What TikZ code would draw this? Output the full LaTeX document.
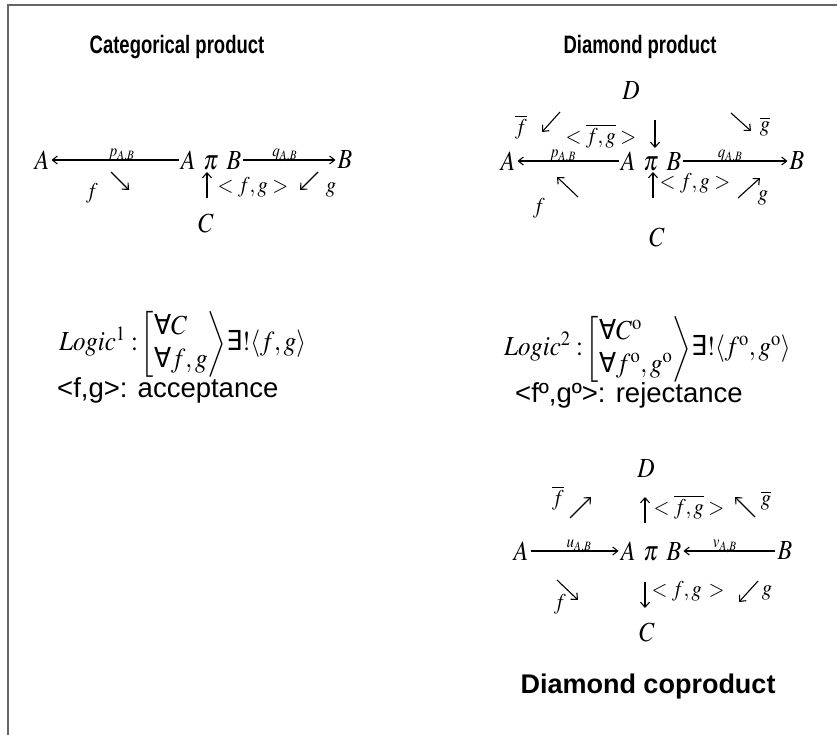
\documentclass[tikz,border=0pt]{standalone}
\usepackage{amsmath}
\usepackage{mathptmx}
\usepackage[no-math]{fontspec}
\setmainfont{Liberation Sans}
\newfontfamily\dvsans{DejaVu Sans}
\newcommand{\myall}{\text{\dvsans ∀}}
\newcommand{\myex}{\text{\dvsans ∃}}
\usetikzlibrary{arrows.meta}
\tikzset{
  ttl/.style={font=\fontsize{21}{25}\selectfont\bfseries, inner sep=0pt, xscale=0.88, yscale=1.2},
  ttlb/.style={font=\fontsize{27}{32}\selectfont\bfseries, inner sep=0pt},
  mm/.style={font=\fontsize{24}{28}\selectfont, inner sep=1pt, yscale=1.15},
  lg/.style={font=\fontsize{25}{30}\selectfont, inner sep=1pt, yscale=1.1, anchor=west},
  ml/.style={font=\fontsize{20.5}{24}\selectfont, inner sep=1pt, yscale=1.1},
  sb/.style={font=\fontsize{15}{18}\selectfont, inner sep=0pt, yscale=1.15},
  txt/.style={font=\fontsize{27.5}{32}\selectfont, inner sep=0pt, anchor=west},
  arr/.style={-{Straight Barb[length=5pt,width=9pt]}, line width=1.1pt},
  harr/.style={-{Straight Barb[length=5pt,width=8pt]}, line width=1.1pt, shorten <=1pt, shorten >=1pt},
}
\begin{document}
\begin{tikzpicture}[x=1pt,y=-1pt]
\useasboundingbox (0,0) rectangle (837,735);
\draw[black!60, line width=1.3pt] (8,735) -- (8,5) -- (837,5);

% ---------- Categorical product ----------
\node[ttl] (t1) at (177,47) {Categorical product};
\node[mm] (cA) at (42,160) {$A$};
\node[mm] (cP) at (211,160) {$A\;\,\pi\;\,B$};
\node[mm] (cB) at (345,160) {$B$};
\draw[harr] (cP) -- node[sb, above=-2pt, pos=0.45] {$p_{A,B}$} (cA);
\draw[harr] (cP) -- node[sb, above=-2pt, pos=0.45] {$q_{A,B}$} (cB);
\node[ml] (cf) at (92,193) {$f$};
\coordinate (c1s) at (111,172); \coordinate (c1e) at (129,190);
\draw[arr] (c1s) -- (c1e);
\coordinate (c2s) at (207,198); \coordinate (c2e) at (207,172);
\draw[arr] (c2s) -- (c2e);
\node[ml] (cfg) at (253,187) {$<f,\boldsymbol{g}>$};
\coordinate (c3s) at (318,172); \coordinate (c3e) at (300,190);
\draw[arr] (c3s) -- (c3e);
\node[ml] (cg) at (331,190) {$g$};
\node[mm] (cC) at (206,223) {$C$};

% Logic 1
\node[lg] (l1) at (58,344) {$\mathit{Logic}^{1}:\!\left[\begin{array}{@{}l@{}}\myall C\\ \myall f,g\end{array}\right\rangle\!\myex!\langle f,g\rangle$};
\node[txt] (acc) at (57,390) {<f,g>: acceptance};

% ---------- Diamond product ----------
\node[ttl] (t2) at (640,47) {Diamond product};
\node[mm] (dD) at (631,91) {$D$};
\node[ml] (dfb) at (521,127) {$\overline{f}$};
\coordinate (d1s) at (560,112); \coordinate (d1e) at (542,132);
\draw[arr] (d1s) -- (d1e);
\node[ml] (dfg) at (601,136) {$<\overline{f,g}>$};
\coordinate (d2s) at (655,120); \coordinate (d2e) at (655,148);
\draw[arr] (d2s) -- (d2e);
\coordinate (d3s) at (731,113); \coordinate (d3e) at (751,131);
\draw[arr] (d3s) -- (d3e);
\node[ml] (dgb) at (765,127) {$\overline{g}$};
\node[mm] (dA) at (508,161) {$A$};
\node[mm] (dP) at (651,161) {$A\;\,\pi\;\,B$};
\node[mm] (dB) at (797,161) {$B$};
\draw[harr] (dP) -- node[sb, above=-2pt, pos=0.55] {$p_{A,B}$} (dA);
\draw[harr] (dP) -- node[sb, above=-2pt, pos=0.45] {$q_{A,B}$} (dB);
\node[ml] (df) at (539,208) {$f$};
\coordinate (d4s) at (578,197); \coordinate (d4e) at (557,177);
\draw[arr] (d4s) -- (d4e);
\coordinate (d5s) at (653,198); \coordinate (d5e) at (653,172);
\draw[arr] (d5s) -- (d5e);
\node[ml] (dfg2) at (695,183) {$<f,g>$};
\coordinate (d6s) at (738,198); \coordinate (d6e) at (760,178);
\draw[arr] (d6s) -- (d6e);
\node[ml] (dg) at (763,198) {$g$};
\node[mm] (dC) at (657,237) {$C$};

% Logic 2
\node[lg] (l2) at (503,349) {$\mathit{Logic}^{2}:\!\left[\begin{array}{@{}l@{}}\myall C^{\mathrm{o}}\\ \myall f^{\mathrm{o}},g^{\mathrm{o}}\end{array}\right\rangle\!\myex!\langle f^{\mathrm{o}},g^{\mathrm{o}}\rangle$};
\node[txt] (rej) at (515,395) {<fº,gº>: rejectance};

% ---------- Diamond coproduct ----------
\node[mm] (eD) at (646,469) {$D$};
\node[ml] (efb) at (558,498) {$\overline{f}$};
\coordinate (e1s) at (570,518); \coordinate (e1e) at (591,497);
\draw[arr] (e1s) -- (e1e);
\coordinate (e2s) at (645,523); \coordinate (e2e) at (645,497);
\draw[arr] (e2s) -- (e2e);
\node[ml] (efg) at (689,507) {$<\overline{f,g}>$};
\coordinate (e3s) at (755,517); \coordinate (e3e) at (735,497);
\draw[arr] (e3s) -- (e3e);
\node[ml] (egb) at (766,501) {$\overline{g}$};
\node[mm] (eA) at (521,551) {$A$};
\node[mm] (eP) at (651,551) {$A\;\,\pi\;\,B$};
\node[mm] (eB) at (785,551) {$B$};
\draw[harr] (eA) -- node[sb, above=-2pt, pos=0.55] {$\boldsymbol{u}_{A,B}$} (eP);
\draw[harr] (eB) -- node[sb, above=-2pt, pos=0.55] {$v_{A,B}$} (eP);
\node[ml] (ef) at (560,604) {$f$};
\coordinate (e4s) at (557,580); \coordinate (e4e) at (578,600);
\draw[arr] (e4s) -- (e4e);
\coordinate (e5s) at (645,582); \coordinate (e5e) at (645,608);
\draw[arr] (e5s) -- (e5e);
\node[ml] (efg2) at (688,591) {$<f,g\,\boldsymbol{>}$};
\coordinate (e6s) at (758,581); \coordinate (e6e) at (739,602);
\draw[arr] (e6s) -- (e6e);
\node[ml] (eg) at (767,593) {$g$};
\node[mm] (eC) at (647,632) {$C$};
\node[ttlb] (t3) at (648,687) {Diamond coproduct};
\end{tikzpicture}
\end{document}
